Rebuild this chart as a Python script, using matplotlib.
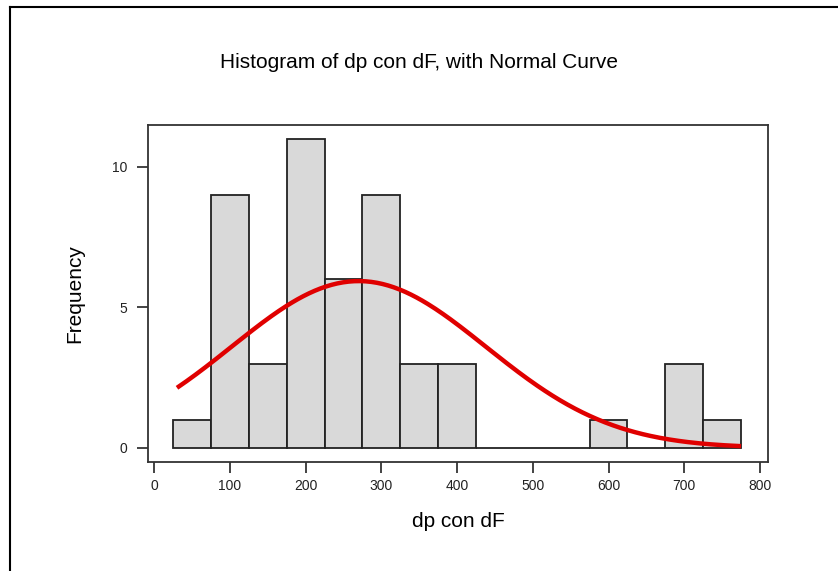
import numpy as np
import matplotlib.pyplot as plt

# histogram bins (width 50) and counts
bin_edges = [25, 75, 125, 175, 225, 275, 325, 375, 425, 475, 525, 575, 625, 675, 725, 775]
counts = [1, 9, 3, 11, 6, 9, 3, 3, 0, 0, 0, 1, 0, 3, 1]

# fitted normal curve parameters
mu = 270.0
sigma = 168.0
n_obs = sum(counts)
bin_w = 50

plt.rcParams['font.family'] = ['Liberation Sans', 'DejaVu Sans']

fig = plt.figure(figsize=(8.38, 5.71), dpi=100)
ax = fig.add_axes([148 / 838, 1 - 462 / 571, 620 / 838, 337 / 571])

lefts = np.array(bin_edges[:-1])
widths = np.diff(bin_edges)
ax.bar(lefts, counts, width=widths, align='edge', color='#d9d9d9',
       edgecolor='#222222', linewidth=1.3)

xs = np.linspace(30, 775, 300)
ys = n_obs * bin_w * np.exp(-0.5 * ((xs - mu) / sigma) ** 2) / (sigma * np.sqrt(2 * np.pi))
ax.plot(xs, ys, color='#e00000', linewidth=3.2, solid_capstyle='butt')

ax.set_xlim(-8.3, 810.6)
ax.set_ylim(-0.5, 11.49)
ax.set_xticks([0, 100, 200, 300, 400, 500, 600, 700, 800])
ax.set_yticks([0, 5, 10])
ax.tick_params(direction='out', length=8, width=1.2, labelsize=10, pad=4, colors='#222222')
ax.tick_params(axis='y', pad=7)
for s in ax.spines.values():
    s.set_linewidth(1.3)
    s.set_color('#333333')

ax.set_xlabel('dp con dF', fontsize=15, labelpad=14)
ax.set_ylabel('Frequency', fontsize=15, labelpad=20)
fig.text(0.5, 1 - 62 / 571, 'Histogram of dp con dF, with Normal Curve',
         ha='center', va='center', fontsize=15)

# outer frame lines on left and top
fig.add_artist(plt.Line2D([10 / 838, 10 / 838], [0, 1 - 7 / 571], color='black', linewidth=1.5,
                          transform=fig.transFigure))
fig.add_artist(plt.Line2D([10 / 838, 1], [1 - 7 / 571, 1 - 7 / 571], color='black', linewidth=1.5,
                          transform=fig.transFigure))

fig.savefig('out.png', dpi=100)
